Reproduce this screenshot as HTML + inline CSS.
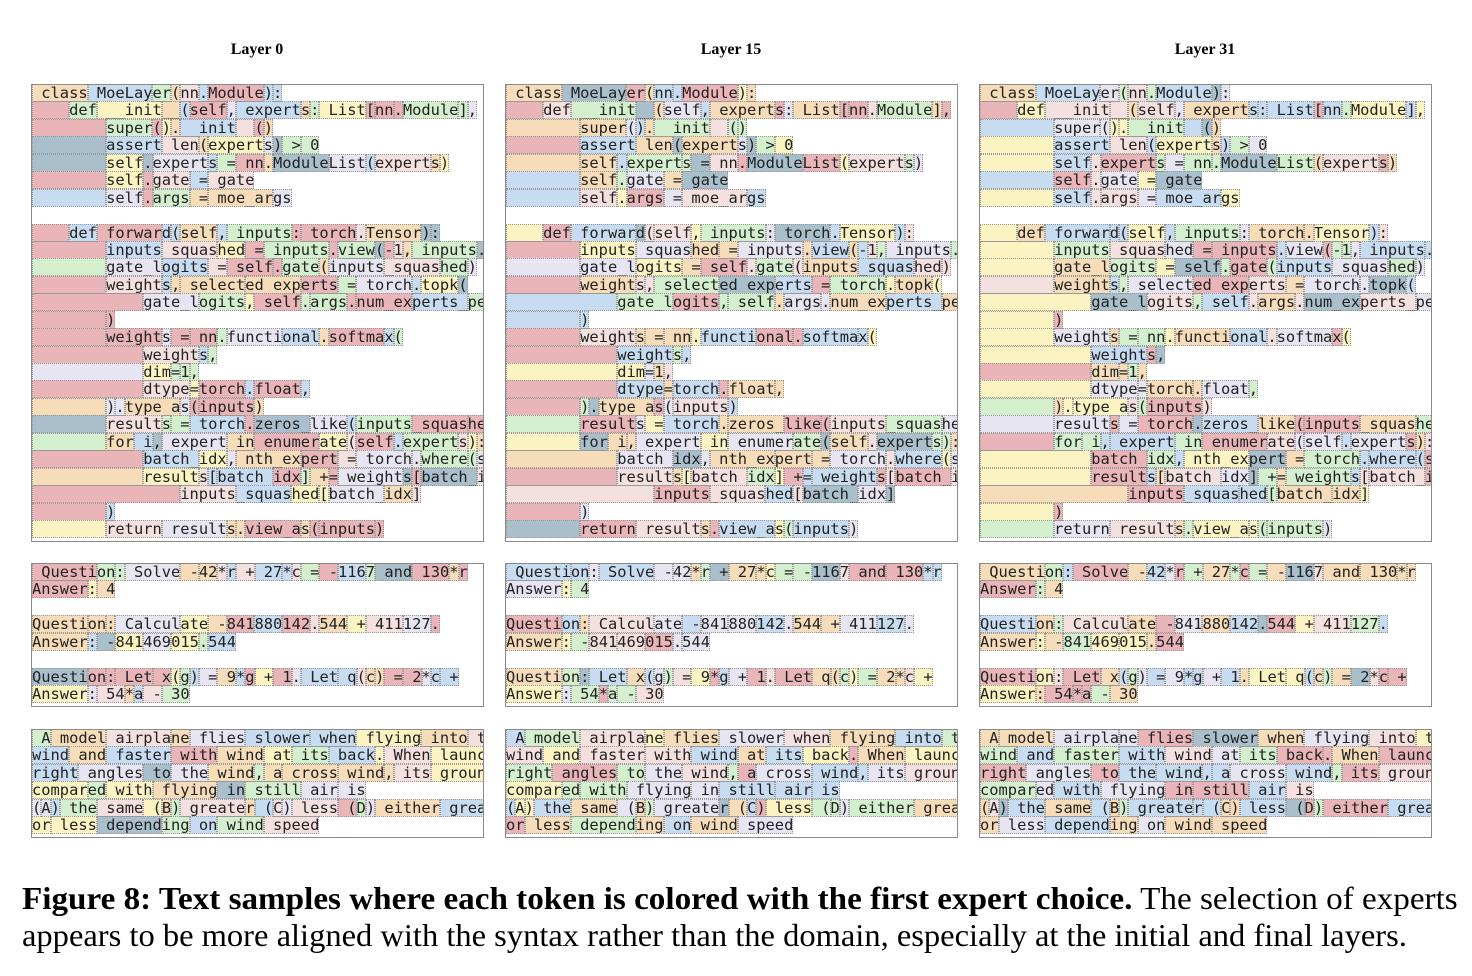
<!DOCTYPE html>
<html><head><meta charset="utf-8">
<style>
html,body{margin:0;padding:0;background:#fff;}
body{width:1472px;height:976px;position:relative;overflow:hidden;}
.title{position:absolute;top:41px;font:bold 16px "Liberation Serif",serif;width:200px;text-align:center;}
.panel{position:absolute;border:1px solid #8a8a8a;overflow:hidden;background:#fff;font-family:"DejaVu Sans Mono",monospace;font-size:15.4px;color:#222;}
.ln{white-space:pre;height:17.45px;line-height:17.45px;}
.ln span{outline:1px dotted #999;outline-offset:-1px;}
.cap{position:absolute;left:22px;font-family:"Liberation Serif",serif;font-size:32px;white-space:nowrap;transform-origin:0 0;}
</style></head><body>
<div class="title" style="left:157px">Layer 0</div>
<div class="title" style="left:631px">Layer 15</div>
<div class="title" style="left:1105px">Layer 31</div>
<div id="root"></div>
<div class="cap" style="top:880px;transform:scaleX(1.036)"><b>Figure 8: Text samples where each token is colored with the first expert choice.</b> The selection of experts</div>
<div class="cap" style="top:917px;transform:scaleX(1.016)">appears to be more aligned with the syntax rather than the domain, especially at the initial and final layers.</div>
<script>
var code=[" class MoeLayer(nn.Module):","    def __init__(self, experts: List[nn.Module],","        super().__init__()","        assert len(experts) > 0","        self.experts = nn.ModuleList(experts)","        self.gate = gate","        self.args = moe_args","","    def forward(self, inputs: torch.Tensor):","        inputs_squashed = inputs.view(-1, inputs.","        gate_logits = self.gate(inputs_squashed)","        weights, selected_experts = torch.topk(","            gate_logits, self.args.num_experts_pe","        )","        weights = nn.functional.softmax(","            weights,","            dim=1,","            dtype=torch.float,","        ).type_as(inputs)","        results = torch.zeros_like(inputs_squashed","        for i, expert in enumerate(self.experts):","            batch_idx, nth_expert = torch.where(s","            results[batch_idx] += weights[batch_i","                inputs_squashed[batch_idx]","        )","        return results.view_as(inputs)"];
var math=[" Question: Solve -42*r + 27*c = -1167 and 130*r","Answer: 4","","Question: Calculate -841880142.544 + 411127.","Answer: -841469015.544","","Question: Let x(g) = 9*g + 1. Let q(c) = 2*c +","Answer: 54*a - 30"];
var txt=[" A model airplane flies slower when flying into th","wind and faster with wind at its back. When launch","right angles to the wind, a cross wind, its ground","compared with flying in still air is","(A) the same (B) greater (C) less (D) either grea","or less depending on wind speed"];
var pal=["#f6dcb8","#d3efcd","#c8dcf1","#e9b5b9","#fbf4c2","#e7e5f2","#f5e0e0","#a9bfcb"];
var w=[3,3,3,3,2,2,2,1];
var seed=7;function rnd(){seed=(seed*16807)%2147483647;return seed/2147483647;}
function pick(){var t=0,s=19,r=rnd()*s;for(var i=0;i<pal.length;i++){t+=w[i];if(r<t)return pal[i];}return pal[0];}
function esc(s){return s.replace(/&/g,"&amp;").replace(/</g,"&lt;");}
function build(lines,x,y,h,lh,ind){
 var d=document.createElement("div");d.className="panel";
 d.style.left=x+"px";d.style.top=y+"px";d.style.width="451px";d.style.height=h+"px";
 var html="";
 lines.forEach(function(l){
  var s='<div class="ln" style="height:'+lh+'px;line-height:'+lh+'px">';
  if(l.length){
   var m=l.match(/^ {2,}/);var rest=l;
   if(m){var c=rnd()<0.6?ind:pick();s+='<span style="background:'+c+'">'+m[0]+'</span>';rest=l.slice(m[0].length);}
   var toks=rest.match(/\s*[A-Za-z_]{1,6}|\s*\d{1,3}|\s*[^\sA-Za-z_\d]/g)||[];
   toks.forEach(function(t){s+='<span style="background:'+pick()+'">'+esc(t)+'</span>';});
  }
  html+=s+'</div>';
 });
 d.innerHTML=html;document.getElementById("root").appendChild(d);
}
var inds=["#e9b5b9","#e9b5b9","#fbf4c2"];
[31,505,979].forEach(function(x,i){
 seed=11+i*977;
 build(code,x,84,456,17.45,inds[i]);
 build(math,x,563,142,17.45,inds[i]);
 build(txt,x,729,107,17.45,inds[i]);
});
</script>
</body></html>
